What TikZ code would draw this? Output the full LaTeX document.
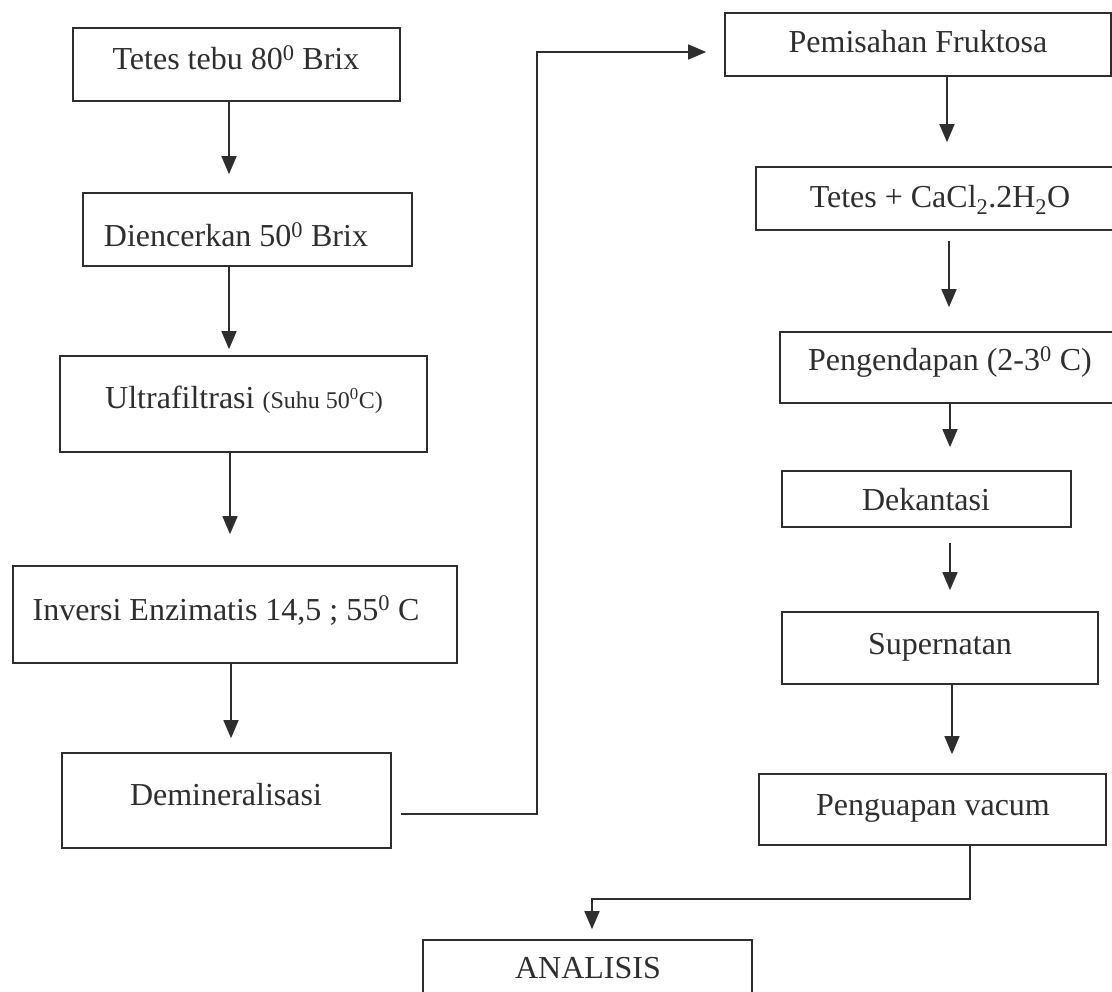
\documentclass[tikz,border=0pt]{standalone}
\usepackage{fontspec}
\setmainfont{Liberation Serif}
\usetikzlibrary{arrows.meta}
\definecolor{ink}{gray}{0.18}
\tikzset{
  box/.style={draw=ink, line width=1.7pt, rectangle, inner sep=0pt},
  lbl/.style={text=ink, anchor=base, inner sep=0pt, font=\fontsize{32pt}{38pt}\selectfont},
  arr/.style={draw=ink, line width=1.5pt, -{Triangle[width=15pt,length=18pt]}},
}
\begin{document}
\begin{tikzpicture}[x=1pt, y=-1pt]
\useasboundingbox (0,0) rectangle (1112,992);
\fill[white] (0,0) rectangle (1112,992);
\clip (0,0) rectangle (1112,992);
% boxes
\node[box, minimum width=327pt, minimum height=73pt] (b1) at (236.5,64.5) {};
\node[box, minimum width=329pt, minimum height=73pt] (b2) at (247.5,229.5) {};
\node[box, minimum width=367pt, minimum height=96pt] (b3) at (243.5,404) {};
\node[box, minimum width=444pt, minimum height=97pt] (b4) at (235,614.5) {};
\node[box, minimum width=329pt, minimum height=95pt] (b5) at (226.5,800.5) {};
\node[box, minimum width=386pt, minimum height=63pt] (b6) at (918,44.5) {};
\node[box, minimum width=374pt, minimum height=63pt] (b7) at (943,198.5) {};
\node[box, minimum width=350pt, minimum height=71pt] (b8) at (955,367.5) {};
\node[box, minimum width=289pt, minimum height=56pt] (b9) at (926.5,499) {};
\node[box, minimum width=316pt, minimum height=72pt] (b10) at (940,648) {};
\node[box, minimum width=347pt, minimum height=71pt] (b11) at (932.5,809.5) {};
\node[box, minimum width=329pt, minimum height=70pt] (b12) at (587.5,975) {};
% labels
\node[lbl] (t1) at (236,70) {Tetes tebu 80\textsuperscript{0} Brix};
\node[lbl] (t2) at (236,247) {Diencerkan 50\textsuperscript{0} Brix};
\node[lbl] (t3) at (244,409) {Ultrafiltrasi {\fontsize{24pt}{28pt}\selectfont (Suhu 50\textsuperscript{0}C)}};
\node[lbl] (t4) at (226,620) {Inversi Enzimatis 14,5 ; 55\textsuperscript{0} C};
\node[lbl] (t5) at (226,805) {Demineralisasi};
\node[lbl] (t6) at (918,53) {Pemisahan Fruktosa};
\node[lbl] (t7) at (940,208) {Tetes + CaCl\textsubscript{2}.2H\textsubscript{2}O};
\node[lbl] (t8) at (950,371) {Pengendapan (2-3\textsuperscript{0} C)};
\node[lbl] (t9) at (926,510) {Dekantasi};
\node[lbl] (t10) at (940,654) {Supernatan};
\node[lbl] (t11) at (933,815) {Penguapan vacum};
\node[lbl] (t12) at (588,978) {ANALISIS};
% column coordinates
\coordinate (xa) at (229,0);
\coordinate (xb) at (230,0);
\coordinate (xc) at (231,0);
\coordinate (xd) at (947,0);
\coordinate (xe) at (949,0);
\coordinate (xf) at (950,0);
\coordinate (xg) at (952,0);
\coordinate (xh) at (970,0);
\coordinate (c1) at (537,814);
\coordinate (c2) at (537,52);
\coordinate (c3) at (970,899);
\coordinate (c4) at (592,899);
% arrows
\draw[arr, shorten >=18pt] (b1.south -| xa) -- (b2.north -| xa);
\draw[arr, shorten >=6pt] (b2.south -| xa) -- (b3.north -| xa);
\draw[arr, shorten >=31pt] (b3.south -| xb) -- (b4.north -| xb);
\draw[arr, shorten >=14pt] (b4.south -| xc) -- (b5.north -| xc);
\draw[arr, shorten <=9pt, shorten >=18pt] (b5.east |- c1) -- (c1) -- (c2) -- (b6.west |- c2);
\draw[arr, shorten >=24pt] (b6.south -| xd) -- (b7.north -| xd);
\draw[arr, shorten <=10pt, shorten >=24pt] (b7.south -| xe) -- (b8.north -| xe);
\draw[arr, shorten >=23pt] (b8.south -| xf) -- (b9.north -| xf);
\draw[arr, shorten <=15pt, shorten >=21pt] (b9.south -| xf) -- (b10.north -| xf);
\draw[arr, shorten >=19pt] (b10.south -| xg) -- (b11.north -| xg);
\draw[arr, shorten >=10pt] (b11.south -| xh) -- (c3) -- (c4) -- (b12.north -| c4);
\end{tikzpicture}
\end{document}
